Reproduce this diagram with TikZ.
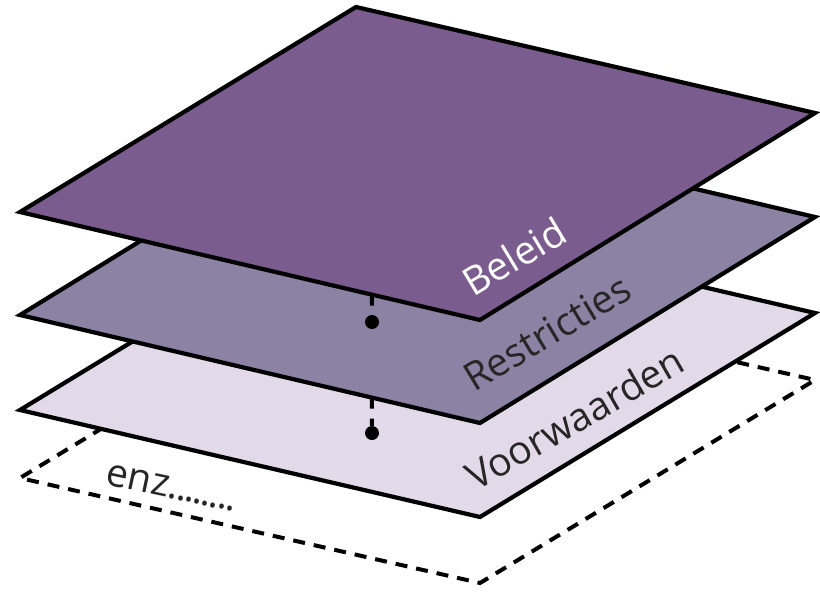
\documentclass[tikz,border=0pt]{standalone}
\usepackage{fontspec}
\setmainfont{Open Sans}
\usetikzlibrary{calc}

\definecolor{beleidfill}{RGB}{123,92,142}
\definecolor{restrfill}{RGB}{140,130,163}
\definecolor{voorwfill}{RGB}{226,217,233}

% a run of closely set dots
\newcommand{\tightdots}{.\kern-2pt.\kern-2pt.\kern-2pt.\kern-2pt.\kern-2pt.\kern-2pt.\kern-2pt.}

\begin{document}
\begin{tikzpicture}[x=1pt,y=-1pt,
  sheet/.style={draw=black, line width=4.2pt, line join=miter},
  ghostsheet/.style={draw=black, line width=4pt, line join=miter, dash pattern=on 12pt off 9pt},
  link/.style={draw=black, line width=4pt, dash pattern=on 11pt off 10pt},
  knot/.style={circle, fill=black, inner sep=0pt, minimum size=14pt},
  label/.style={font=\fontsize{39}{44}\selectfont, anchor=base west, inner sep=0pt}]

\useasboundingbox (0,0) rectangle (820,592);

% corner points of the four sheets: left, back, right, front
\coordinate (l1) at (20,212);  \coordinate (t1) at (356,7);
\coordinate (r1) at (815,113); \coordinate (b1) at (480,320);
\coordinate (l2) at (20,315);  \coordinate (t2) at (355,109);
\coordinate (r2) at (815,217); \coordinate (b2) at (480,423);
\coordinate (l3) at (20,410);  \coordinate (t3) at (355,206);
\coordinate (r3) at (815,313); \coordinate (b3) at (480,517);
\coordinate (l4) at (20,478);  \coordinate (t4) at (355,275);
\coordinate (r4) at (815,380); \coordinate (b4) at (480,583);

% lowest, open-ended sheet
\draw[ghostsheet] (t4) -- (l4) -- (b4) -- (r4) -- cycle;

% third sheet and its link
\filldraw[sheet, fill=voorwfill] (l3) -- (t3) -- (r3) -- (b3) -- cycle;
\coordinate (e2) at ($(l2)!0.765!(b2)$);
\node[knot] (k2) at (372,433) {};
\draw[link] (e2) -- (k2);

% second sheet and its link
\filldraw[sheet, fill=restrfill] (l2) -- (t2) -- (r2) -- (b2) -- cycle;
\coordinate (e1) at ($(l1)!0.765!(b1)$);
\node[knot] (k1) at (372,322) {};
\draw[link] (e1) -- (k1);

% top sheet
\filldraw[sheet, fill=beleidfill] (l1) -- (t1) -- (r1) -- (b1) -- cycle;

% sheet labels
\node[label, text=white, rotate=31] (beleid) at (473,298) {Beleid};
\node[label, text=black!85, rotate=31] (restr) at (474,393) {Restricties};
\node[label, text=black!85, rotate=30] (voorw) at (476,492) {Voorwaarden};
\node[label, text=black!85, rotate=-12] (enz) at (104,484) {enz\tightdots};
\end{tikzpicture}
\end{document}
